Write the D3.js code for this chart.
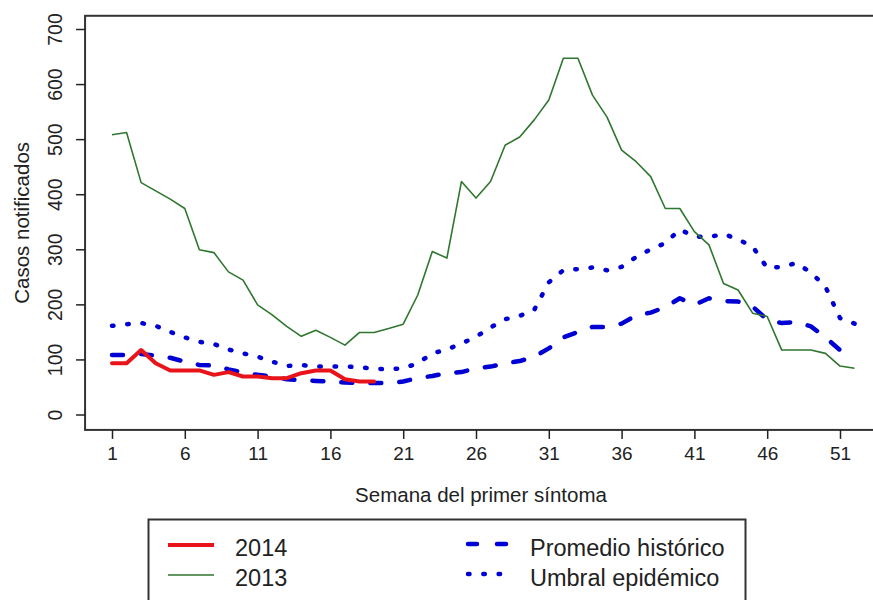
<!DOCTYPE html>
<html>
<head>
<meta charset="utf-8">
<script src="https://cdn.jsdelivr.net/npm/d3@7"></script>
<style>
  html, body { margin: 0; padding: 0; background: #fff; }
  svg { display: block; font-family: "Liberation Sans", Arial, sans-serif; }
</style>
</head>
<body>
<svg id="chart" width="873" height="600"></svg>
<script>
// ---- data ----
const weeks2013 = d3.range(1, 53);
const cases2013 = [508, 512, 421, 406, 391, 374, 299, 294, 259, 244, 199, 181, 160, 142, 153, 140, 126, 149, 149, 156,
                   164, 217, 296, 284, 423, 393, 423, 489, 504, 535, 571, 647, 647, 580, 540, 480, 459, 432, 374, 374,
                   332, 308, 238, 226, 184, 178, 117, 117, 117, 111, 88, 84];
const weeks2014 = d3.range(1, 20);
const cases2014 = [93, 93, 117, 93, 80, 80, 80, 72, 77, 69, 69, 66, 66, 75, 80, 80, 64, 60, 60];
const weeksPromedio = d3.range(1, 52);
const promedio = [108, 108, 110, 107, 103, 96, 90, 89, 82, 76, 72, 69, 64, 62, 61, 60, 58, 57, 57, 57,
                  60, 66, 70, 75, 77, 84, 87, 93, 97, 105, 120, 140, 150, 159, 159, 165, 180, 185, 195, 211,
                  199, 211, 206, 205, 196, 172, 166, 168, 160, 140, 117];
const weeksUmbral = d3.range(1, 53);
const umbral = [161, 164, 166, 161, 150, 140, 132, 128, 118, 111, 105, 96, 88, 90, 87, 87, 87, 86, 83, 82,
                84, 93, 111, 118, 129, 141, 158, 173, 179, 190, 240, 262, 264, 267, 262, 268, 286, 300, 311, 336,
                323, 322, 328, 318, 305, 266, 268, 275, 258, 232, 175, 165];
const xTicks = [1, 6, 11, 16, 21, 26, 31, 36, 41, 46, 51];
const yTicks = [0, 100, 200, 300, 400, 500, 600, 700];
const legendLeft = ["2014", "2013"];
const legendRight = ["Promedio histórico", "Umbral epidémico"];

// ---- scales ----
const svg = d3.select("#chart");
const x = d3.scaleLinear().domain([1, 51]).range([112, 840]);
const y = d3.scaleLinear().domain([0, 700]).range([414.5, 29]);
const xMin = -0.85, xMax = 54.04, yMin = -28, yMax = 724;

const red = "#e8141a", green = "#2f762f", blue = "#0000d4", ink = "#222";

// frame
svg.append("rect")
  .attr("x", x(xMin)).attr("y", y(yMax))
  .attr("width", x(xMax) - x(xMin)).attr("height", y(yMin) - y(yMax))
  .attr("fill", "none").attr("stroke", "#333").attr("stroke-width", 2);

// axes
const xAxis = d3.axisBottom(x).tickValues(xTicks).tickSize(9).tickPadding(8).tickFormat(d3.format("d"));
const gx = svg.append("g").attr("transform", `translate(0,${y(yMin)})`).call(xAxis);
gx.select(".domain").remove();
gx.selectAll(".tick line").attr("stroke", "#222").attr("stroke-width", 1.5);
gx.selectAll(".tick text").attr("fill", ink).attr("font-size", 19)
  .attr("font-family", "Liberation Sans, Arial, sans-serif");

const yAxis = d3.axisLeft(y).tickValues(yTicks).tickSize(9).tickFormat(d3.format("d"));
const gy = svg.append("g").attr("transform", `translate(${x(xMin)},0)`).call(yAxis);
gy.select(".domain").remove();
gy.selectAll(".tick line").attr("stroke", "#222").attr("stroke-width", 1.5);
gy.selectAll(".tick text")
  .attr("fill", ink).attr("font-size", 19.5)
  .attr("font-family", "Liberation Sans, Arial, sans-serif")
  .attr("x", null).attr("dy", null)
  .attr("text-anchor", "middle")
  .attr("transform", "translate(-23,0) rotate(-90)");

// axis titles
svg.append("text")
  .attr("x", 481).attr("y", 502)
  .attr("text-anchor", "middle").attr("font-size", 20.5).attr("fill", ink)
  .text("Semana del primer síntoma");
svg.append("text")
  .attr("transform", `translate(29,${(y(yMin) + y(yMax)) / 2}) rotate(-90)`)
  .attr("text-anchor", "middle").attr("font-size", 20.5).attr("fill", ink)
  .text("Casos notificados");

// lines
const line = d3.line().x(d => x(d[0])).y(d => y(d[1]));
svg.append("clipPath").attr("id", "plotclip").append("rect")
  .attr("x", x(xMin)).attr("y", y(yMax))
  .attr("width", x(xMax) - x(xMin)).attr("height", y(yMin) - y(yMax));
const plot = svg.append("g").attr("clip-path", "url(#plotclip)");

plot.append("path")
  .attr("d", line(d3.zip(weeksUmbral, umbral)))
  .attr("fill", "none").attr("stroke", blue).attr("stroke-width", 4.5)
  .attr("stroke-linecap", "round").attr("stroke-linejoin", "round")
  .attr("stroke-dasharray", "1.5,13.8");
plot.append("path")
  .attr("d", line(d3.zip(weeksPromedio, promedio)))
  .attr("fill", "none").attr("stroke", blue).attr("stroke-width", 4.5)
  .attr("stroke-linecap", "round").attr("stroke-linejoin", "round")
  .attr("stroke-dasharray", "11,18");
plot.append("path")
  .attr("d", line(d3.zip(weeks2013, cases2013)))
  .attr("fill", "none").attr("stroke", green).attr("stroke-width", 1.6)
  .attr("stroke-linejoin", "round");
plot.append("path")
  .attr("d", line(d3.zip(weeks2014, cases2014)))
  .attr("fill", "none").attr("stroke", red).attr("stroke-width", 4)
  .attr("stroke-linecap", "round").attr("stroke-linejoin", "round");

// legend
const lg = svg.append("g");
lg.append("rect").attr("x", 148.5).attr("y", 519.5).attr("width", 597).attr("height", 120)
  .attr("fill", "#fff").attr("stroke", "#333").attr("stroke-width", 2);
const rowY = [545, 575];
const leftStyles = [{c: red, w: 4, dash: null}, {c: green, w: 1.6, dash: null}];
const rightStyles = [{c: blue, w: 4.5, dash: "9,20"}, {c: blue, w: 4.5, dash: "1.5,13.8"}];
legendLeft.forEach((t, i) => {
  lg.append("line").attr("x1", 168).attr("x2", 214).attr("y1", rowY[i]).attr("y2", rowY[i])
    .attr("stroke", leftStyles[i].c).attr("stroke-width", leftStyles[i].w);
  lg.append("text").attr("x", 235).attr("y", rowY[i] + 11).attr("font-size", 23.5).attr("fill", ink).text(t);
});
legendRight.forEach((t, i) => {
  lg.append("line").attr("x1", 468).attr("x2", 507).attr("y1", rowY[i] - 1).attr("y2", rowY[i] - 1)
    .attr("stroke", rightStyles[i].c).attr("stroke-width", rightStyles[i].w)
    .attr("stroke-linecap", "round").attr("stroke-dasharray", rightStyles[i].dash);
  lg.append("text").attr("x", 530).attr("y", rowY[i] + 11).attr("font-size", 23.5).attr("fill", ink).text(t);
});
</script>
</body>
</html>
